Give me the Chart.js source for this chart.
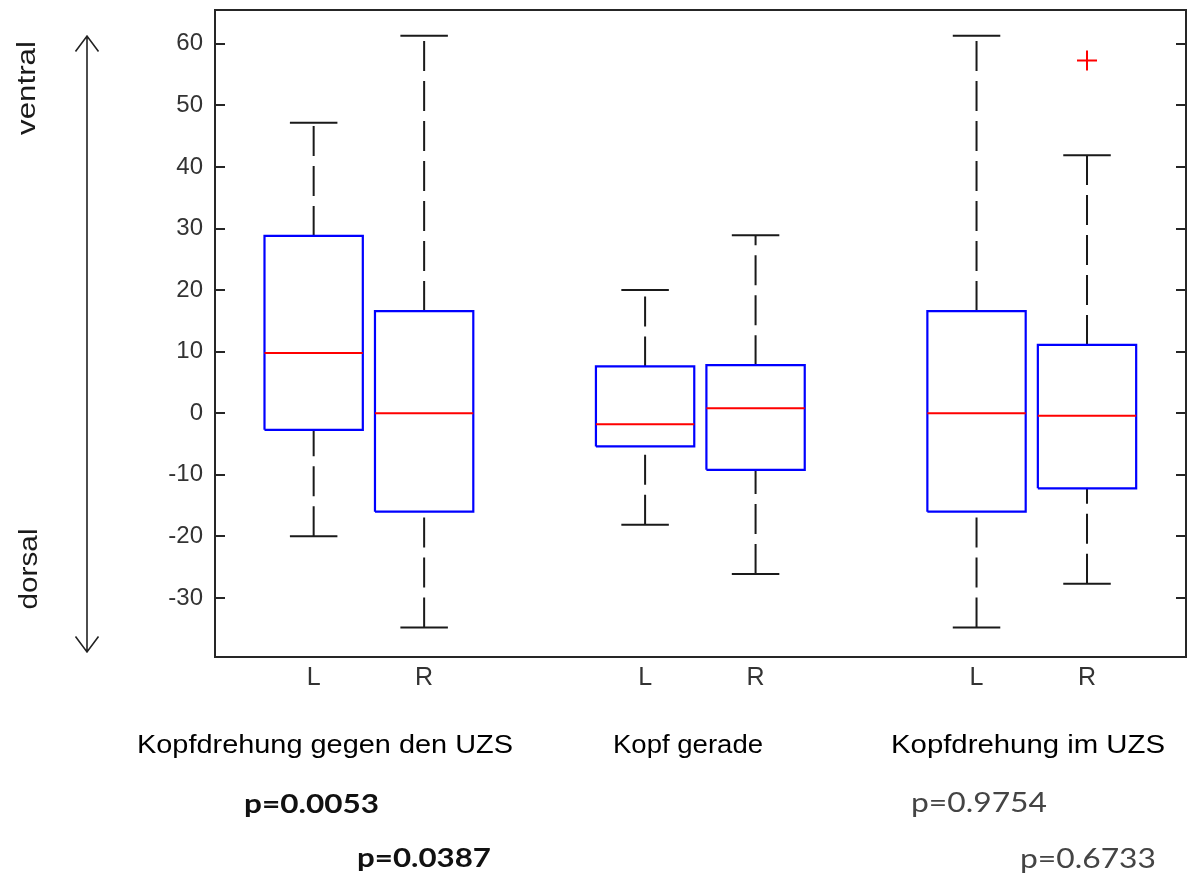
<!DOCTYPE html>
<html><head><meta charset="utf-8">
<script src="https://cdn.jsdelivr.net/npm/chart.js@4.4.1/dist/chart.umd.min.js"></script>
<style>html,body{margin:0;padding:0;background:#fff}canvas{display:block}</style>
</head><body>
<canvas id="c" width="1187" height="874"></canvas>
<script>
// ---- data ----
const categories = ['L', 'R', 'L', 'R', 'L', 'R'];
const groupNames = ['Kopfdrehung gegen den UZS', 'Kopf gerade', 'Kopfdrehung im UZS'];
const whiskerLow  = [-20.0, -34.8, -18.1, -26.1, -34.8, -27.7];
const q1          = [-2.7, -16.0, -5.4, -9.2, -16.0, -12.2];
const median      = [9.8, 0.0, -1.8, 0.8, 0.0, -0.4];
const q3          = [28.8, 16.6, 7.6, 7.8, 16.6, 11.1];
const whiskerHigh = [47.2, 61.3, 20.0, 28.9, 61.3, 41.9];
const outliers    = [[], [], [], [], [], [57.3]];
const yTicks = [-30, -20, -10, 0, 10, 20, 30, 40, 50, 60];
const pValues = ['p=0.0053', 'p=0.0387', 'p=0.9754', 'p=0.6733'];
const sideLabels = ['ventral', 'dorsal'];

// ---- derived (layout) ----
const pos = i => Math.floor(i / 2) * 3 + (i % 2) + 1;
const HW = 0.445, CW = 0.215;
const gap = p => ({x: p, y: null});

const boxPts = [], whiskPts = [], capPts = [], medPts = [], outPts = [];
categories.forEach((c, i) => {
  const p = pos(i);
  boxPts.push({x: p - HW, y: q1[i]}, {x: p - HW, y: q3[i]}, {x: p + HW, y: q3[i]}, {x: p + HW, y: q1[i]}, {x: p - HW, y: q1[i]}, gap(p));
  whiskPts.push({x: p, y: whiskerLow[i]}, {x: p, y: q1[i]}, gap(p), {x: p, y: q3[i]}, {x: p, y: whiskerHigh[i]}, gap(p));
  capPts.push({x: p - CW, y: whiskerLow[i]}, {x: p + CW, y: whiskerLow[i]}, gap(p), {x: p - CW, y: whiskerHigh[i]}, {x: p + CW, y: whiskerHigh[i]}, gap(p));
  medPts.push({x: p - HW, y: median[i]}, {x: p + HW, y: median[i]}, gap(p));
  outliers[i].forEach(v => outPts.push({x: p, y: v}));
});

const lineDs = (data, color, extra) => Object.assign({
  data, showLine: true, borderColor: color, backgroundColor: color, borderWidth: 2,
  pointRadius: 0, pointHoverRadius: 0, spanGaps: false, fill: false, tension: 0
}, extra || {});

function fitText(ctx, text, x, y, font, color, width) {
  ctx.save();
  ctx.font = font; ctx.fillStyle = color; ctx.textAlign = 'left'; ctx.textBaseline = 'alphabetic';
  const w = ctx.measureText(text).width;
  ctx.translate(x, y); ctx.scale(width / w, 1);
  ctx.fillText(text, 0, 0);
  ctx.restore();
}
function fitTextRot(ctx, text, cx, baseX, font, color, length) {
  ctx.save();
  ctx.font = font; ctx.fillStyle = color; ctx.textAlign = 'center'; ctx.textBaseline = 'alphabetic';
  const w = ctx.measureText(text).width;
  ctx.translate(baseX, cx); ctx.rotate(-Math.PI / 2); ctx.scale(length / w, 1);
  ctx.fillText(text, 0, 0);
  ctx.restore();
}

const framePlugin = {
  id: 'frame',
  afterDraw(chart) {
    const {ctx, chartArea: a, scales} = chart;
    ctx.save();
    ctx.strokeStyle = '#262626'; ctx.lineWidth = 2;
    ctx.strokeRect(a.left, a.top, a.right - a.left, a.bottom - a.top);
    ctx.beginPath();
    yTicks.forEach(v => {
      const y = Math.round(scales.y.getPixelForValue(v));
      ctx.moveTo(a.left, y); ctx.lineTo(a.left + 10, y);
      ctx.moveTo(a.right - 10, y); ctx.lineTo(a.right, y);
    });
    ctx.stroke();
    // side arrow
    ctx.strokeStyle = '#222'; ctx.lineWidth = 1.6;
    ctx.beginPath();
    ctx.moveTo(87, 36); ctx.lineTo(87, 652);
    ctx.moveTo(75.5, 51.5); ctx.lineTo(87, 36); ctx.lineTo(98.5, 51.5);
    ctx.moveTo(75.5, 636.5); ctx.lineTo(87, 652); ctx.lineTo(98.5, 636.5);
    ctx.stroke();
    ctx.restore();
    fitTextRot(ctx, sideLabels[0], 88, 35, '26px "Liberation Sans", Arial, sans-serif', '#1a1a1a', 94);
    fitTextRot(ctx, sideLabels[1], 569, 37, '26px "Liberation Sans", Arial, sans-serif', '#1a1a1a', 81);
    const gf = '26px "Liberation Sans", Arial, sans-serif';
    fitText(ctx, groupNames[0], 137, 753, gf, '#000', 376);
    fitText(ctx, groupNames[1], 613, 753, gf, '#000', 150);
    fitText(ctx, groupNames[2], 891, 753, gf, '#000', 274);
    fitText(ctx, pValues[0], 244, 812.5, 'bold 27px Lato, sans-serif', '#111', 135);
    fitText(ctx, pValues[1], 357, 866.5, 'bold 27px Lato, sans-serif', '#111', 134);
    fitText(ctx, pValues[2], 911, 811.5, '27px Lato, sans-serif', '#444', 136);
    fitText(ctx, pValues[3], 1020, 868, '27px Lato, sans-serif', '#444', 136);
  }
};

const zeroPad = s => { s.paddingTop = 0; s.paddingBottom = 0; s.paddingLeft = 0; s.paddingRight = 0; };

new Chart(document.getElementById('c'), {
  type: 'scatter',
  data: {
    datasets: [
      lineDs(medPts, '#ff0000', {borderWidth: 2}),
      lineDs(boxPts, '#0000ff', {borderWidth: 2.2}),
      lineDs(capPts, '#1a1a1a'),
      lineDs(whiskPts, '#1a1a1a', {borderDash: [30, 10]}),
      {data: outPts, showLine: false, pointStyle: 'cross', pointRadius: 10, pointBorderWidth: 2,
       borderColor: '#ff0000', backgroundColor: '#ff0000', pointHoverRadius: 10}
    ]
  },
  plugins: [framePlugin],
  options: {
    responsive: false,
    animation: false,
    events: [],
    layout: {autoPadding: false, padding: {top: 10, right: 1, left: 0, bottom: 0}},
    plugins: {legend: {display: false}, tooltip: {enabled: false}},
    scales: {
      x: {
        type: 'linear', min: 0.107, max: 8.896,
        afterBuildTicks: s => { s.ticks = categories.map((c, i) => ({value: pos(i)})); },
        afterFit: s => { s.height = 217; zeroPad(s); },
        grid: {display: false, drawTicks: false},
        border: {display: false},
        ticks: {
          autoSkip: false, maxRotation: 0, padding: 6,
          font: {family: '"Liberation Sans", Arial, sans-serif', size: 25},
          color: '#333',
          callback: (v, idx) => categories[idx]
        }
      },
      y: {
        min: -39.6, max: 65.5,
        afterBuildTicks: s => { s.ticks = yTicks.map(v => ({value: v})); },
        afterFit: s => { s.width = 215; zeroPad(s); },
        grid: {display: false, drawTicks: false},
        border: {display: false},
        ticks: {
          padding: 12,
          font: {family: '"Liberation Sans", Arial, sans-serif', size: 24},
          color: '#333'
        }
      }
    }
  }
});
</script>
</body></html>
